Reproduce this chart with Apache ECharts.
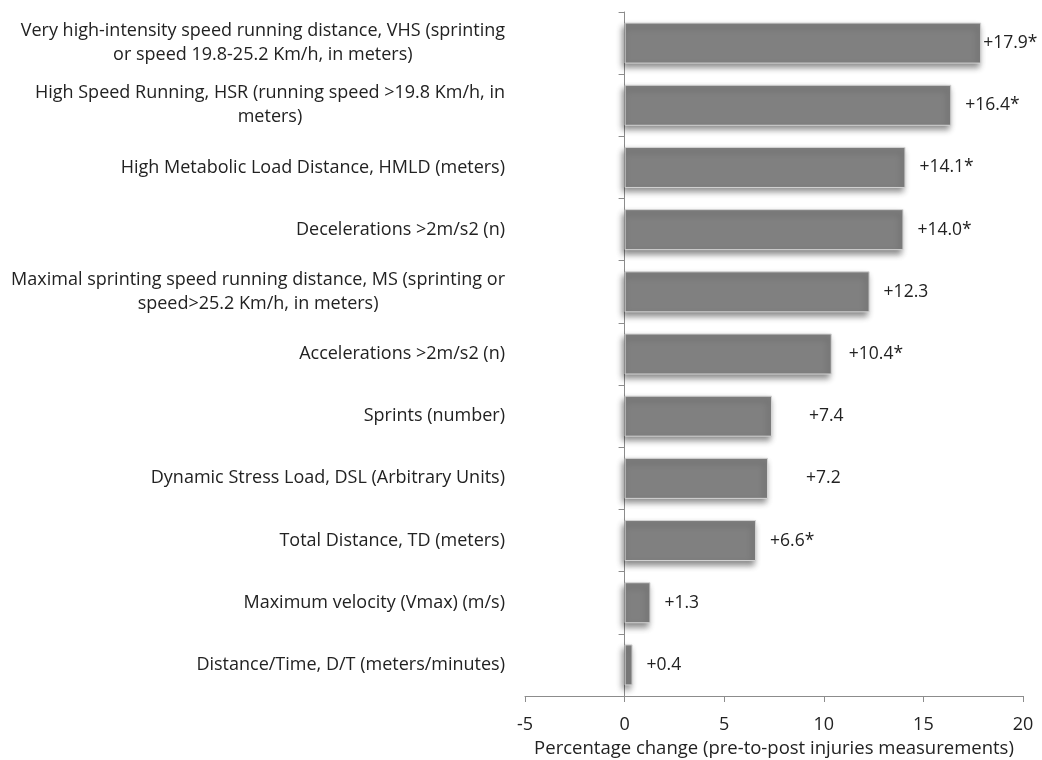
<!DOCTYPE html>
<html>
<head>
<meta charset="utf-8">
<script src="https://cdn.jsdelivr.net/npm/echarts@6/dist/echarts.min.js"></script>
<style>html,body{margin:0;padding:0;background:#fff;}#c{width:1042px;height:760px;}</style>
</head>
<body>
<div id="c"></div>
<script>
const categories = [
  "Very high-intensity speed running distance, VHS (sprinting\nor speed 19.8-25.2 Km/h, in meters)",
  "High Speed Running, HSR (running speed >19.8 Km/h, in\nmeters)",
  "High Metabolic Load Distance, HMLD (meters)",
  "Decelerations >2m/s2 (n)",
  "Maximal sprinting speed running distance, MS (sprinting or\nspeed>25.2 Km/h, in meters)",
  "Accelerations >2m/s2 (n)",
  "Sprints (number)",
  "Dynamic Stress Load, DSL (Arbitrary Units)",
  "Total Distance, TD (meters)",
  "Maximum velocity (Vmax) (m/s)",
  "Distance/Time, D/T (meters/minutes)"
];
const values = [17.9, 16.4, 14.1, 14.0, 12.3, 10.4, 7.4, 7.2, 6.6, 1.3, 0.4];
const valueLabels = ["+17.9*", "+16.4*", "+14.1*", "+14.0*", "+12.3", "+10.4*", "+7.4", "+7.2", "+6.6*", "+1.3", "+0.4"];
const xTicks = { min: -5, max: 20, interval: 5 };
const xAxisTitle = "Percentage change (pre-to-post injuries measurements)";

const FONT = "'Open Sans', Lato, sans-serif";
// label gaps as placed in the original figure (style, not data)
const labelGapStyle = { 0: 2, 5: 17, 6: 37, 7: 38 };
const seriesData = values.map(function (v, i) {
  return labelGapStyle[i] !== undefined ? { value: v, label: { distance: labelGapStyle[i] } } : v;
});

const chart = echarts.init(document.getElementById('c'), null, { renderer: 'canvas' });
chart.setOption({
  animation: false,
  backgroundColor: '#fff',
  grid: { left: 525, right: 19, top: 12, bottom: 64, containLabel: false, outerBoundsMode: 'none' },
  xAxis: {
    type: 'value',
    min: xTicks.min, max: xTicks.max, interval: xTicks.interval,
    axisLine: { show: true, onZero: false, lineStyle: { color: '#8c8c8c', width: 1 } },
    axisTick: { show: true, length: 6, lineStyle: { color: '#8c8c8c' } },
    splitLine: { show: false },
    axisLabel: { color: '#222', fontSize: 18, fontFamily: FONT, margin: 20 },
    name: xAxisTitle,
    nameLocation: 'middle',
    nameGap: 43,
    nameTextStyle: { color: '#222', fontSize: 18.5, fontFamily: FONT }
  },
  yAxis: {
    type: 'category',
    inverse: true,
    data: categories,
    axisLine: { show: true, onZero: true, lineStyle: { color: '#8c8c8c', width: 1 } },
    axisTick: { show: true, length: 6, lineStyle: { color: '#8c8c8c' } },
    axisLabel: {
      margin: 20,
      color: '#222',
      fontSize: 18,
      fontFamily: FONT,
      lineHeight: 24,
      formatter: function (v) {
        return v.split('\n').map(function (s) { return '{c|' + s + '}'; }).join('\n');
      },
      rich: { c: { align: 'center', color: '#222', fontSize: 18, fontFamily: FONT, lineHeight: 24 } }
    }
  },
  series: [{
    type: 'bar',
    data: seriesData,
    barWidth: 41,
    itemStyle: {
      color: '#808080',
      borderColor: '#d4d4d4',
      borderWidth: 1,
      shadowColor: 'rgba(0,0,0,0.45)',
      shadowBlur: 6,
      shadowOffsetX: -2,
      shadowOffsetY: 4
    },
    label: {
      show: true,
      position: 'right',
      distance: 14,
      color: '#222',
      fontSize: 17.5,
      fontFamily: FONT,
      formatter: function (p) { return valueLabels[p.dataIndex]; }
    }
  }]
});
</script>
</body>
</html>
